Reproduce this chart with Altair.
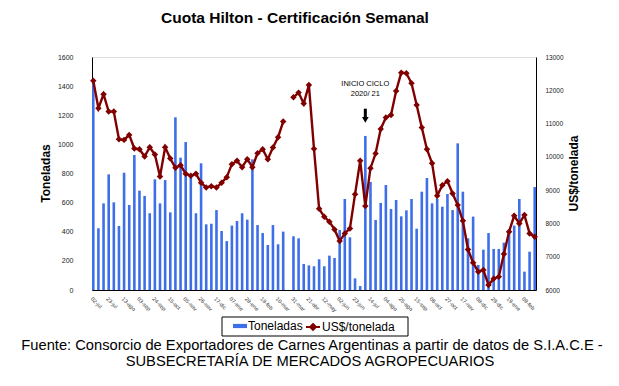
import datetime as dt
import altair as alt
import pandas as pd

MESES = ["ene", "feb", "mar", "abr", "may", "jun", "jul", "ago", "sep", "oct", "nov", "dic"]
inicio = dt.date(2019, 7, 2)
fechas = [inicio + dt.timedelta(weeks=i) for i in range(87)]
semanas = [f"{d.day:02d}-{MESES[d.month - 1]}" for d in fechas]

toneladas = [
    1420, 424, 595, 794, 602, 440, 806, 584, 927, 682,
    646, 527, 760, 595, 755, 533, 1186, 909, 1016, 770,
    527, 870, 451, 455, 549, 405, 336, 442, 474, 527,
    483, 897, 446, 391, 309, 446, 314, 401, None, 369,
    355, 179, 169, 163, 211, 163, 236, 220, 412, 625,
    362, 80, 27, 1058, 742, 481, 598, 721, 556, 618,
    506, 547, 625, 421, 675, 769, 595, 625, 572, 659,
    549, 1007, 675, 355, 504, 172, 277, 391, 282, 282,
    325, 389, 442, 625, 126, 263, 707,
]

usd_tonelada = [
    12290, 11460, 11880, 11360, 11360, 10530, 10510, 10660, 10250, 10230,
    10010, 10290, 10070, 9410, 10290, 9950, 9670, 9750, 9490, 9430,
    9490, 9220, 9080, 9120, 9080, 9220, 9390, 9780, 9880, 9690,
    9930, 9690, 10110, 10230, 9930, 10280, 10590, 11060, None, 11790,
    11930, 11600, 12160, 10240, 8440, 8200, 8050, 7820, 7470, 7700,
    7850, 8880, 9880, 8520, 9660, 10100, 10840, 11180, 11260, 11980,
    12530, 12510, 12210, 11560, 10880, 10230, 9810, 8830, 9150, 9270,
    8900, 8550, 8080, 7220, 6820, 6550, 6600, 6150, 6340, 6400,
    7080, 7750, 8230, 8000, 8250, 7700, 7600,
]

series = ["Toneladas", "US$/tonelada"]
etiquetas_x = semanas[::3]
ticks_izq = [0, 200, 400, 600, 800, 1000, 1200, 1400, 1600]
ticks_der = [6000, 7000, 8000, 9000, 10000, 11000, 12000, 13000]

titulo = "Cuota Hilton - Certificación Semanal"
fuente = [
    "Fuente: Consorcio de Exportadores de Carnes Argentinas a partir de datos de S.I.A.C.E -",
    "SUBSECRETARÍA DE MERCADOS AGROPECUARIOS",
]
anotacion = ["INICIO CICLO", "2020/ 21"]
semana_anotacion = semanas[53]

AZUL = "#3F6FE8"
BORDO = "#800000"
FONT = "Liberation Sans"

df = pd.DataFrame({
    "semana": semanas,
    "toneladas": toneladas,
    "usd": usd_tonelada,
    "serie_b": [series[0]] * len(semanas),
    "serie_l": [series[1]] * len(semanas),
})

x_enc = alt.X(
    "semana:O", sort=semanas, title=None,
    scale=alt.Scale(paddingInner=0.5, paddingOuter=0),
    axis=alt.Axis(values=etiquetas_x, labelAngle=45, labelAlign="left", labelBaseline="top",
                  labelFontSize=5.5, labelFont=FONT, labelColor="#333", labelPadding=6,
                  tickSize=0, domainColor="black", labelOverlap=False),
)

escala_izq = alt.Scale(domain=[0, 1600], nice=False)
eje_izq = alt.Axis(values=ticks_izq, format="d", labelOverlap=False, labelFont=FONT,
                   labelFontSize=7, labelColor="#222",
                   tickSize=0, labelPadding=19, domainColor="black", grid=False,
                   titleFont=FONT, titleFontSize=12, titleFontWeight="bold",
                   titleAngle=270, titleX=-47, titleY=116, titleAlign="center",
                   titleBaseline="middle", titleColor="black")


def y_izq(campo):
    return alt.Y(campo, title="Toneladas", scale=escala_izq, axis=eje_izq)


barras = alt.Chart(df).mark_bar(size=2.6).encode(
    x=x_enc,
    y=y_izq("toneladas:Q"),
    color=alt.Color("serie_b:N", scale=alt.Scale(domain=[series[0]], range=[AZUL]),
                    legend=alt.Legend(title=None, orient="none", legendX=141, legendY=262,
                                      padding=0, labelFont=FONT, labelFontSize=12, labelColor="black",
                                      symbolType="M-1,-0.3L1,-0.3L1,0.3L-1,0.3Z",
                                      symbolSize=196, symbolStrokeWidth=0, labelOffset=1,
                                      symbolOpacity=1)),
)

linea = alt.Chart(df).mark_line(
    strokeWidth=2.4,
    point=alt.OverlayMarkDef(shape="diamond", filled=True, size=42, color=BORDO),
).encode(
    x=x_enc,
    y=alt.Y("usd:Q", title="US$/tonelada",
            scale=alt.Scale(domain=[6000, 13000], nice=False),
            axis=alt.Axis(orient="right", values=ticks_der, format="d", labelOverlap=False,
                          labelFont=FONT, labelFontSize=6.5,
                          labelColor="#222", tickSize=0, labelPadding=9, domainColor="black", grid=False,
                          titleFont=FONT, titleFontSize=12, titleFontWeight="bold",
                          titleAngle=270, titleX=37, titleY=116, titleAlign="center",
                          titleBaseline="middle", titleColor="black")),
    color=alt.Color("serie_l:N", scale=alt.Scale(domain=[series[1]], range=[BORDO]),
                    legend=alt.Legend(title=None, orient="none", legendX=213, legendY=262,
                                      padding=0, labelFont=FONT, labelFontSize=12, labelColor="black",
                                      symbolType="M-1,0L1,0M0,-0.42L0.42,0L0,0.42L-0.42,0Z",
                                      symbolSize=196, symbolStrokeWidth=2, symbolFillColor=BORDO,
                                      symbolStrokeColor=BORDO, labelOffset=1, symbolOpacity=1)),
)

anot_df = pd.DataFrame({"semana": [semana_anotacion] * 2, "texto": anotacion, "y": [1418, 1346]})
anot = alt.Chart(anot_df).mark_text(font=FONT, fontSize=7.5, color="black", fill="black",
                                    baseline="middle").encode(
    x=alt.X("semana:O", sort=semanas), y=y_izq("y:Q"), text="texto:N"
)
flecha_df = pd.DataFrame({"semana": [semana_anotacion], "y1": [1245], "y2": [1180], "yp": [1168]})
flecha = alt.Chart(flecha_df).mark_rule(color="black", strokeWidth=3).encode(
    x=alt.X("semana:O", sort=semanas), y=y_izq("y1:Q"), y2="y2:Q"
)
punta = alt.Chart(flecha_df).mark_point(shape="triangle-down", filled=True, color="black", size=45, opacity=1).encode(
    x=alt.X("semana:O", sort=semanas), y=y_izq("yp:Q")
)

izq = alt.layer(barras, anot, flecha, punta)

caja = alt.Chart(pd.DataFrame({"c": [0]})).mark_rect(fill="white", stroke="black", strokeWidth=1).encode(
    x=alt.value(130), x2=alt.value(316), y=alt.value(260), y2=alt.value(279)
)

titulo_mk = alt.Chart(pd.DataFrame({"t": [titulo]})).mark_text(
    font=FONT, fontSize=15.5, fontWeight="bold", color="black", align="center", baseline="middle"
).encode(x=alt.value(203), y=alt.value(-39), text="t:N")

fuente_mk1 = alt.Chart(pd.DataFrame({"t": [fuente[0]]})).mark_text(
    font=FONT, fontSize=14.7, color="black", align="center", baseline="middle"
).encode(x=alt.value(220), y=alt.value(289), text="t:N")
fuente_mk2 = alt.Chart(pd.DataFrame({"t": [fuente[1]]})).mark_text(
    font=FONT, fontSize=14.7, color="black", align="center", baseline="middle"
).encode(x=alt.value(218), y=alt.value(305), text="t:N")

chart = alt.layer(caja, izq, linea, titulo_mk, fuente_mk1, fuente_mk2).resolve_scale(
    y="independent", color="independent"
).resolve_legend(color="independent").properties(
    width=444, height=233,
    autosize=alt.AutoSizeParams(type="none"),
    padding={"left": 84, "top": 49, "right": 70, "bottom": 80},
).configure_view(stroke="#808080", strokeWidth=1).configure(background="white")

chart.save("out.html", embed_options={"renderer": "svg", "actions": False})
